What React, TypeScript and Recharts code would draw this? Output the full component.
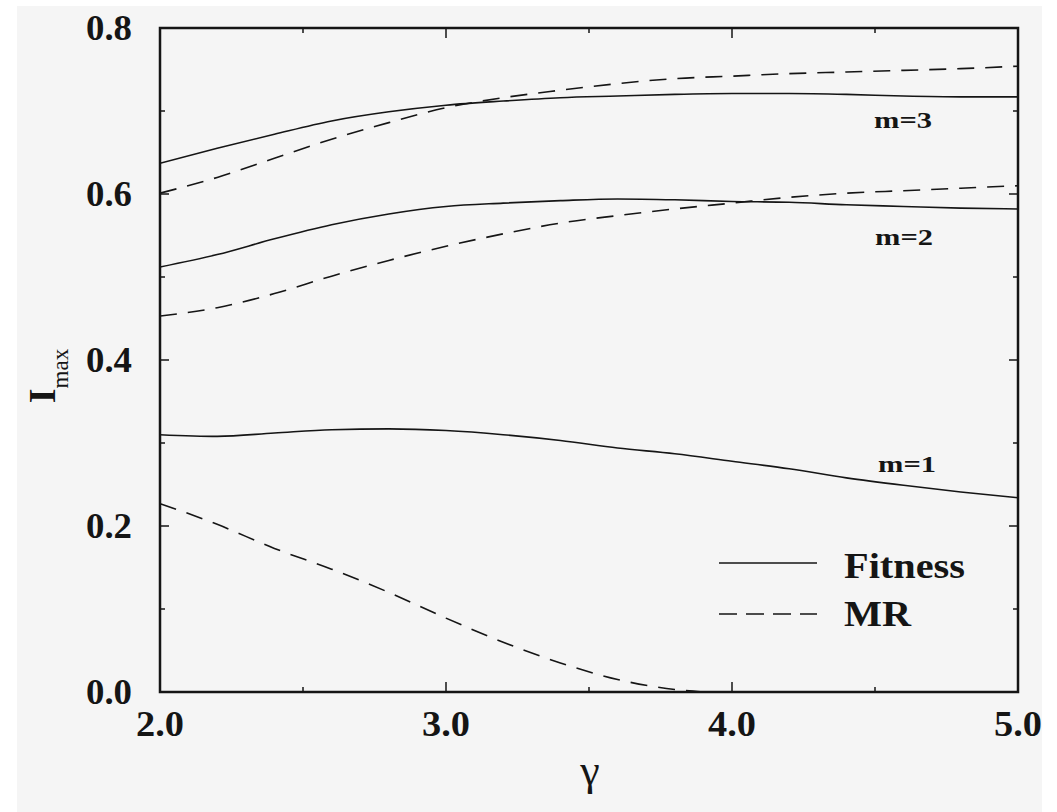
import React from 'react';
import { LineChart, Line, XAxis, YAxis } from 'recharts';

// gamma grid used for all curves
const gammaSteps = [2.0, 2.2, 2.4, 2.6, 2.8, 3.0, 3.2, 3.4, 3.6, 3.8, 4.0, 4.2, 4.4, 4.6, 4.8, 5.0];

const fitnessM3 = [0.637, 0.655, 0.672, 0.688, 0.699, 0.707, 0.712, 0.716, 0.718, 0.72, 0.721, 0.721, 0.72, 0.718, 0.717, 0.717];
const mrM3 = [0.601, 0.62, 0.643, 0.666, 0.686, 0.704, 0.716, 0.725, 0.733, 0.739, 0.742, 0.745, 0.747, 0.749, 0.751, 0.754];

const fitnessM2 = [0.512, 0.527, 0.546, 0.563, 0.576, 0.585, 0.589, 0.592, 0.594, 0.593, 0.591, 0.59, 0.587, 0.585, 0.583, 0.582];
const mrM2 = [0.453, 0.463, 0.48, 0.501, 0.52, 0.537, 0.552, 0.565, 0.574, 0.582, 0.589, 0.596, 0.601, 0.604, 0.607, 0.61];

const fitnessM1 = [0.31, 0.308, 0.312, 0.316, 0.317, 0.315, 0.31, 0.303, 0.294, 0.287, 0.278, 0.269, 0.258, 0.249, 0.241, 0.234];
const mrM1Gamma = [2.0, 2.2, 2.4, 2.6, 2.8, 3.0, 3.2, 3.4, 3.6, 3.8, 3.9];
const mrM1 = [0.227, 0.202, 0.173, 0.148, 0.12, 0.089, 0.06, 0.035, 0.015, 0.003, 0.0];

const xTicks = [2.0, 2.5, 3.0, 3.5, 4.0, 4.5, 5.0];
const yTicks = [0.0, 0.1, 0.2, 0.3, 0.4, 0.5, 0.6, 0.7, 0.8];

const curveLabels = [
  { text: 'm=3', x: 874, y: 128 },
  { text: 'm=2', x: 875, y: 245 },
  { text: 'm=1', x: 878, y: 472 },
];

const toPoints = (xs: number[], ys: number[]) => xs.map((g, i) => ({ g, v: ys[i] }));

const FONT = '"Liberation Serif", "Times New Roman", Times, serif';
const INK = '#151515';

// plot box in page pixels, used only for the closing frame
const PLOT = { left: 160, top: 28, right: 1018, bottom: 692 };

const isMajorX = (v: number) => Math.abs(v - Math.round(v)) < 1e-6;
const isMajorY = (v: number) => Math.abs(v * 5 - Math.round(v * 5)) < 1e-6;

function BottomTick(props: any) {
  const { x, y, payload } = props;
  const v = payload.value;
  const major = isMajorX(v);
  return (
    <g>
      <line x1={x} x2={x} y1={y} y2={y - (major ? 10 : 5)} stroke={INK} strokeWidth={1.5} />
      {major && (
        <text x={x} y={y + 44} textAnchor="middle" fontFamily={FONT} fontWeight="bold" fontSize={35} fill={INK}
          textLength={48} lengthAdjust="spacingAndGlyphs">
          {v.toFixed(1)}
        </text>
      )}
    </g>
  );
}

function TopTick(props: any) {
  const { x, y, payload } = props;
  const major = isMajorX(payload.value);
  return <line x1={x} x2={x} y1={y} y2={y + (major ? 10 : 5)} stroke={INK} strokeWidth={1.5} />;
}

function LeftTick(props: any) {
  const { x, y, payload } = props;
  const v = payload.value;
  const major = isMajorY(v);
  return (
    <g>
      <line x1={x} x2={x + (major ? 9 : 5)} y1={y} y2={y} stroke={INK} strokeWidth={1.5} />
      {major && (
        <text x={x - 28} y={y} dy="0.35em" textAnchor="end" fontFamily={FONT} fontWeight="bold" fontSize={35} fill={INK}
          textLength={46} lengthAdjust="spacingAndGlyphs">
          {v.toFixed(1)}
        </text>
      )}
    </g>
  );
}

function RightTick(props: any) {
  const { x, y, payload } = props;
  const major = isMajorY(payload.value);
  return <line x1={x} x2={x - (major ? 9 : 5)} y1={y} y2={y} stroke={INK} strokeWidth={1.5} />;
}

const axisLine = { stroke: INK, strokeWidth: 2 };
const lineStyle = { stroke: INK, strokeWidth: 1.6 };
const DASH = '17 11';

export default function App() {
  return (
    <div style={{ position: 'absolute', left: 0, top: 0, width: 1057, height: 812, background: '#ffffff', overflow: 'hidden' }}>
      <div style={{ position: 'absolute', left: 17, top: 6, width: 1025, height: 806, background: '#f5f5f5' }} />
      <div style={{ position: 'absolute', left: 0, top: 0 }}>
        <LineChart width={1057} height={812} margin={{ top: 27, right: 38, bottom: 0, left: 0 }}>
          <XAxis xAxisId="b" dataKey="g" type="number" domain={[2, 5]} ticks={xTicks} interval={0}
            tick={BottomTick} tickLine={false} tickSize={0} tickMargin={0} height={120} axisLine={axisLine} allowDataOverflow />
          <XAxis xAxisId="t" dataKey="g" orientation="top" type="number" domain={[2, 5]} ticks={xTicks} interval={0}
            tick={TopTick} tickLine={false} tickSize={0} tickMargin={0} height={1} axisLine={false} allowDataOverflow />
          <YAxis yAxisId="l" type="number" domain={[0, 0.8]} ticks={yTicks} interval={0}
            tick={LeftTick} tickLine={false} tickSize={0} tickMargin={0} width={160} axisLine={axisLine} allowDataOverflow />
          <YAxis yAxisId="r" orientation="right" type="number" domain={[0, 0.8]} ticks={yTicks} interval={0}
            tick={RightTick} tickLine={false} tickSize={0} tickMargin={0} width={1} axisLine={false} allowDataOverflow />

          <Line xAxisId="b" yAxisId="l" data={toPoints(gammaSteps, fitnessM3)} dataKey="v" type="monotone" {...lineStyle} dot={false} isAnimationActive={false} />
          <Line xAxisId="b" yAxisId="l" data={toPoints(gammaSteps, mrM3)} dataKey="v" type="monotone" {...lineStyle} strokeDasharray={DASH} dot={false} isAnimationActive={false} />
          <Line xAxisId="b" yAxisId="l" data={toPoints(gammaSteps, fitnessM2)} dataKey="v" type="monotone" {...lineStyle} dot={false} isAnimationActive={false} />
          <Line xAxisId="b" yAxisId="l" data={toPoints(gammaSteps, mrM2)} dataKey="v" type="monotone" {...lineStyle} strokeDasharray={DASH} dot={false} isAnimationActive={false} />
          <Line xAxisId="b" yAxisId="l" data={toPoints(gammaSteps, fitnessM1)} dataKey="v" type="monotone" {...lineStyle} dot={false} isAnimationActive={false} />
          <Line xAxisId="b" yAxisId="l" data={toPoints(mrM1Gamma, mrM1)} dataKey="v" type="monotone" {...lineStyle} strokeDasharray={DASH} dot={false} isAnimationActive={false} />
        </LineChart>
      </div>

      {/* frame, labels, legend and axis titles */}
      <svg width={1057} height={812} style={{ position: 'absolute', left: 0, top: 0, pointerEvents: 'none' }}>
        <rect x={PLOT.left} y={PLOT.top} width={PLOT.right - PLOT.left} height={PLOT.bottom - PLOT.top}
          fill="none" stroke={INK} strokeWidth={2.5} />

        {curveLabels.map(l => (
          <text key={l.text} x={l.x} y={l.y} fontFamily={FONT} fontWeight="bold" fontSize={23} fill={INK}
            textLength={58} lengthAdjust="spacingAndGlyphs">
            {l.text}
          </text>
        ))}

        <line x1={719} x2={817} y1={563} y2={563} stroke={INK} strokeWidth={1.6} />
        <text x={844} y={578} fontFamily={FONT} fontWeight="bold" fontSize={35} fill={INK}
          textLength={121} lengthAdjust="spacingAndGlyphs">Fitness</text>
        <line x1={719} x2={817} y1={614} y2={614} stroke={INK} strokeWidth={1.6} strokeDasharray="18 9" />
        <text x={844} y={626} fontFamily={FONT} fontWeight="bold" fontSize={35} fill={INK}
          textLength={67} lengthAdjust="spacingAndGlyphs">MR</text>

        <text x={590} y={785} textAnchor="middle" fontFamily={FONT} fontSize={44} fill={INK}>γ</text>

        <text transform="rotate(-90)" x={-376} y={55} textAnchor="middle" fontFamily={FONT} fontWeight="bold" fontSize={38} fill={INK}>
          I<tspan dy={13} fontSize={23} fontWeight="normal">max</tspan>
        </text>
      </svg>
    </div>
  );
}
